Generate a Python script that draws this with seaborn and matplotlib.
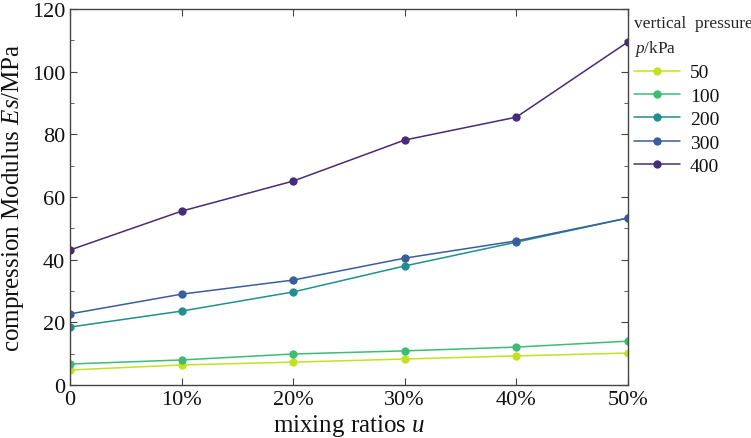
import pandas as pd
import seaborn as sns
import matplotlib.pyplot as plt
from matplotlib.ticker import MultipleLocator

# dati
ratios = [0, 10, 20, 30, 40, 50]
tick_labels = ["0", "10%", "20%", "30%", "40%", "50%"]
pressures = ["50", "100", "200", "300", "400"]
es_50 = [4.8, 6.4, 7.3, 8.3, 9.3, 10.2]
es_100 = [6.7, 8.0, 9.9, 10.9, 12.1, 14.0]
es_200 = [18.5, 23.6, 29.7, 38.0, 45.6, 53.3]
es_300 = [22.7, 29.0, 33.5, 40.5, 46.0, 53.3]
es_400 = [43.1, 55.5, 65.1, 78.2, 85.5, 109.5]

series = [es_50, es_100, es_200, es_300, es_400]
rows = []
for p, vals in zip(pressures, series):
    for u, v in zip(ratios, vals):
        rows.append({"u": u, "Es": v, "p": p})
df = pd.DataFrame(rows)

colors = ["#c5e021", "#3dbc74", "#21908d", "#3a5e9c", "#472c7a"]

sns.set_style("ticks")
plt.rcParams["font.family"] = ["Liberation Serif", "DejaVu Serif"]
plt.rcParams["mathtext.fontset"] = "custom"
plt.rcParams["mathtext.it"] = "Liberation Serif:italic"
plt.rcParams["mathtext.rm"] = "Liberation Serif"

fig = plt.figure(figsize=(7.51, 4.39), dpi=100)
ax = fig.add_axes([0.0932, 0.1207, 0.7428, 0.8563])

sns.lineplot(data=df, x="u", y="Es", hue="p", hue_order=pressures,
             palette=colors, marker="o", markersize=6, linewidth=1.1,
             markeredgewidth=0, ax=ax)

ax.set_xlim(0, 50)
ax.set_ylim(0, 120)
ax.set_xticks(ratios)
ax.set_xticklabels(tick_labels)
ax.yaxis.set_major_locator(MultipleLocator(20))
ax.yaxis.set_minor_locator(MultipleLocator(10))
ax.tick_params(axis="both", which="both", direction="in", top=True, right=True,
               labelsize=16, color="#444444", labelcolor="#111111")
ax.tick_params(which="major", length=5)
ax.tick_params(which="minor", length=3)
for s in ax.spines.values():
    s.set_color("#444444")
    s.set_linewidth(1.0)

ax.set_xlabel("mixing ratios $u$", fontsize=18, labelpad=2, color="#111111")
ax.set_ylabel("compression Modulus $Es$/MPa", fontsize=18, labelpad=4,
              color="#111111")

leg = ax.legend(title="vertical  pressure\n$p$/kPa", loc="upper left",
                bbox_to_anchor=(1.0, 1.0), frameon=False, fontsize=14,
                title_fontsize=12.5, handlelength=2.4, handletextpad=0.5,
                labelspacing=0.3, borderaxespad=0.0, borderpad=0.3)
leg._legend_box.align = "left"
leg.get_title().set_linespacing(1.5)
for t in leg.get_texts():
    t.set_color("#111111")

fig.savefig("out.png", dpi=100)
